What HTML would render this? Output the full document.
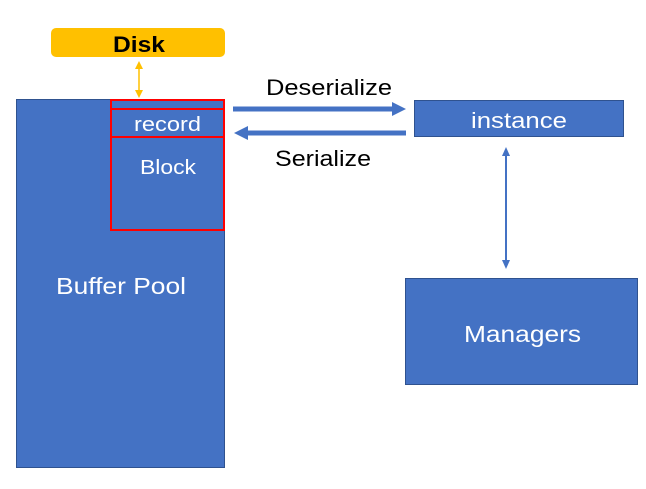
<!DOCTYPE html>
<html><head><meta charset="utf-8"><style>
body{margin:0;width:646px;height:489px;background:#fff;overflow:hidden}
svg{display:block}
text{font-family:"Liberation Sans",sans-serif}
</style></head><body>
<svg width="646" height="489" viewBox="0 0 646 489">
<rect x="51" y="28" width="174" height="29" rx="5" fill="#FFC000"/>
<text x="113" y="52" font-size="22" font-weight="bold" fill="#000" textLength="52" lengthAdjust="spacingAndGlyphs">Disk</text>
<line x1="139" y1="66" x2="139" y2="92" stroke="#FFC000" stroke-width="1.5"/>
<polygon points="139,61 135,69 143,69" fill="#FFC000"/>
<polygon points="139,98 135,90 143,90" fill="#FFC000"/>
<rect x="16.5" y="99.5" width="208" height="368" fill="#4472C4" stroke="#2F528F"/>
<rect x="111" y="100" width="113" height="130" fill="none" stroke="#FF0000" stroke-width="2"/>
<line x1="111" y1="109" x2="224" y2="109" stroke="#FF0000" stroke-width="2"/>
<line x1="111" y1="137" x2="224" y2="137" stroke="#FF0000" stroke-width="2"/>
<text x="134" y="131" font-size="20" fill="#fff" textLength="67" lengthAdjust="spacingAndGlyphs">record</text>
<text x="140" y="174" font-size="20" fill="#fff" textLength="56" lengthAdjust="spacingAndGlyphs">Block</text>
<text x="56" y="294" font-size="23" fill="#fff" textLength="130" lengthAdjust="spacingAndGlyphs">Buffer Pool</text>
<line x1="233" y1="109" x2="394" y2="109" stroke="#4472C4" stroke-width="5"/>
<polygon points="406,109 392,102 392,116" fill="#4472C4"/>
<line x1="246" y1="133" x2="406" y2="133" stroke="#4472C4" stroke-width="5"/>
<polygon points="234,133 248,126 248,140" fill="#4472C4"/>
<text x="266" y="95" font-size="22" fill="#000" textLength="126" lengthAdjust="spacingAndGlyphs">Deserialize</text>
<text x="275" y="166" font-size="22" fill="#000" textLength="96" lengthAdjust="spacingAndGlyphs">Serialize</text>
<rect x="414.5" y="100.5" width="209" height="36" fill="#4472C4" stroke="#2F528F"/>
<text x="471" y="128" font-size="22" fill="#fff" textLength="96" lengthAdjust="spacingAndGlyphs">instance</text>
<line x1="506" y1="152" x2="506" y2="264" stroke="#4472C4" stroke-width="2"/>
<polygon points="506,147 502,156 510,156" fill="#4472C4"/>
<polygon points="506,269 502,260 510,260" fill="#4472C4"/>
<rect x="405.5" y="278.5" width="232" height="106" fill="#4472C4" stroke="#2F528F"/>
<text x="464" y="342" font-size="23" fill="#fff" textLength="117" lengthAdjust="spacingAndGlyphs">Managers</text>
</svg>
</body></html>
